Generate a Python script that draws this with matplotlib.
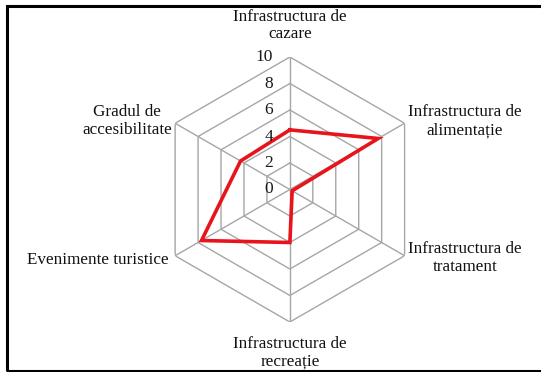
import numpy as np
import matplotlib.pyplot as plt
from matplotlib.patches import Rectangle

# Radar chart data, clockwise from the top
categories = [
    "Infrastructura de\ncazare",
    "Infrastructura de\nalimentație",
    "Infrastructura de\ntratament",
    "Infrastructura de\nrecreație",
    "Evenimente turistice",
    "Gradul de\naccesibilitate",
]
values = [4.5, 7.7, 0.2, 4.0, 7.7, 4.3]
ticks = [0, 2, 4, 6, 8, 10]

plt.rcParams["font.family"] = ["Liberation Serif", "DejaVu Serif"]

fig = plt.figure(figsize=(5.41, 3.72), dpi=100)
ax = fig.add_axes([0.2909, 0.1344, 0.4898, 0.7124], projection="polar")
ax.set_theta_offset(np.pi / 2)
ax.set_theta_direction(-1)
ax.set_ylim(0, 10)
ax.grid(False)
ax.spines["polar"].set_visible(False)
ax.set_xticks([])
ax.set_yticks([])
ax.patch.set_visible(False)

n = len(categories)
angles = np.linspace(0, 2 * np.pi, n, endpoint=False)
closed = np.append(angles, angles[0])

# hexagonal grid
for t in ticks[1:]:
    ax.plot(closed, [t] * (n + 1), color="#a6a6a6", lw=1.0, zorder=1)
for a in angles:
    ax.plot([a, a], [0, 10], color="#a6a6a6", lw=1.0, zorder=1)

# series
ax.plot(closed, values + values[:1], color="#e8141b", lw=2.6, zorder=3,
        solid_joinstyle="miter")

# radial tick labels
for t in ticks:
    ax.annotate(str(t), (0, t), xytext=(-12, 0), textcoords="offset points",
                ha="right", va="center", fontsize=12.5, color="#1a1a1a")

# category labels
placement = [
    (11.1, "center", "bottom"),
    (10.3, "left", "center"),
    (10.3, "left", "center"),
    (11.05, "center", "top"),
    (10.6, "right", "center"),
    (10.3, "right", "center"),
]
for a, lab, (r, ha, va) in zip(angles, categories, placement):
    ax.text(a, r, lab, ha=ha, va=va, ma="center", fontsize=12.3,
            color="#111111", linespacing=1.15)

fig.patches.append(Rectangle((0.013, 0.003), 1.0, 0.981, transform=fig.transFigure,
                             fill=False, ec="black", lw=2.2))

fig.savefig("out.png", dpi=100)
